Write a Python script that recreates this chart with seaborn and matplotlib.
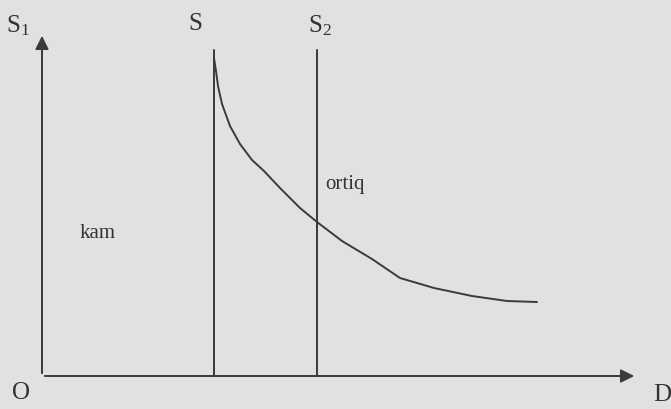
import matplotlib
matplotlib.use("Agg")
import matplotlib.pyplot as plt
import seaborn as sns
import pandas as pd

# Curve values (horizontal position, vertical position; origin at axis corner, y up)
curve_x = [172, 174, 176, 180, 188, 198, 210, 222, 238, 258, 275, 300, 330, 358, 392, 430, 465, 495]
curve_y = [318, 305, 290, 272, 250, 232, 216, 205, 188, 168, 154, 135, 117, 98, 88, 80, 75, 74]
# Vertical price lines
line_s_x = 172
line_s2_x = 275
line_top = 326
axis_x_end = 595
axis_y_end = 343

sns.set_theme(style="white")
plt.rcParams['font.family'] = ['Liberation Serif', 'DejaVu Serif']
plt.rcParams['mathtext.fontset'] = 'custom'
plt.rcParams['mathtext.rm'] = 'Liberation Serif'
plt.rcParams['mathtext.it'] = 'Liberation Serif'
plt.rcParams['mathtext.default'] = 'rm'

fig = plt.figure(figsize=(6.71, 4.09), dpi=100)
fig.patch.set_facecolor('#e1e1e1')
ax = fig.add_axes([0, 0, 1, 1])
ax.set_facecolor('#e1e1e1')
ox, oy = 42, 33  # origin offset in pixels from left and bottom
ax.set_xlim(-ox, 671 - ox)
ax.set_ylim(-oy, 409 - oy)
ax.axis('off')

col = '#3a3a3a'
df = pd.DataFrame({'x': curve_x, 'y': curve_y})
sns.lineplot(data=df, x='x', y='y', ax=ax, color=col, lw=1.4, sort=False)

ax.plot([line_s_x, line_s_x], [0, line_top], color=col, lw=1.4)
ax.plot([line_s2_x, line_s2_x], [0, line_top], color=col, lw=1.4)

ax.annotate('', xy=(axis_x_end, 0), xytext=(0, 0),
            arrowprops=dict(arrowstyle='-|>', color=col, lw=1.4, mutation_scale=20))
ax.annotate('', xy=(0, axis_y_end), xytext=(0, 0),
            arrowprops=dict(arrowstyle='-|>', color=col, lw=1.4, mutation_scale=20))

fs = 18
tc = '#333333'
ax.text(-24, 350, 'S$_1$', fontsize=fs, color=tc, ha='center', va='center')
ax.text(153, 352, 'S', fontsize=fs, color=tc, ha='center', va='center')
ax.text(278, 350, 'S$_2$', fontsize=fs, color=tc, ha='center', va='center')
ax.text(-21, -17, 'O', fontsize=fs, color=tc, ha='center', va='center')
ax.text(620, -19, 'D', fontsize=fs, color=tc, ha='center', va='center')
ax.text(38, 143, 'kam', fontsize=15, color=tc, ha='left', va='center')
ax.text(283, 191, 'ortiq', fontsize=15, color=tc, ha='left', va='center')

fig.savefig('out.png', dpi=100, facecolor=fig.get_facecolor())
